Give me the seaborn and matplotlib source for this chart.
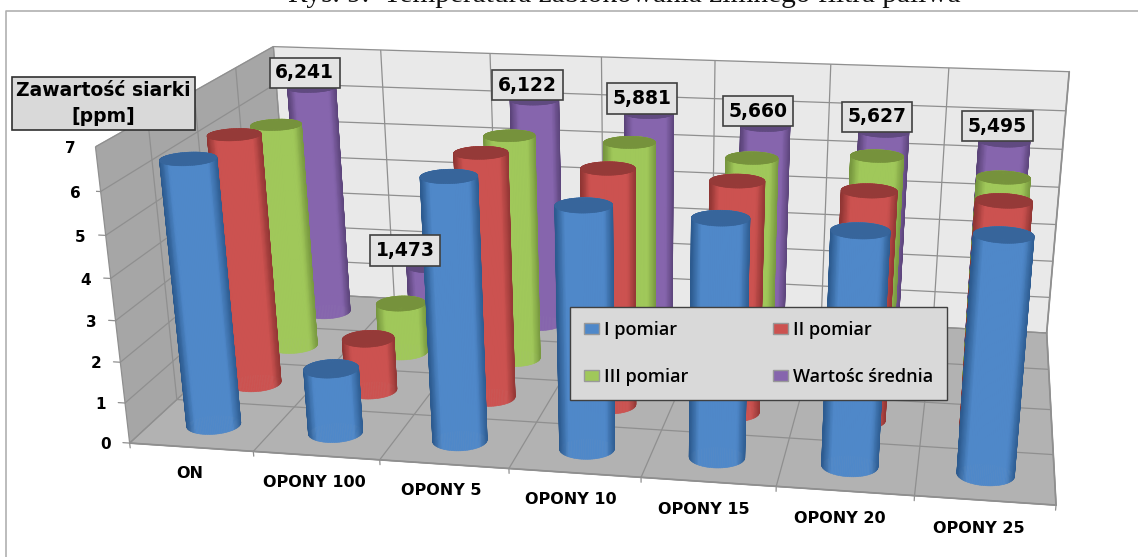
import numpy as np
import matplotlib
matplotlib.use('Agg')
import matplotlib.pyplot as plt
from matplotlib.patches import Patch
from matplotlib.lines import Line2D
from mpl_toolkits.mplot3d import proj3d
import seaborn as sns

categories = ['ON', 'OPONY 100', 'OPONY 5', 'OPONY 10', 'OPONY 15', 'OPONY 20', 'OPONY 25']
pomiar_1 = [6.44, 1.60, 6.29, 5.77, 5.62, 5.48, 5.53]
pomiar_2 = [6.32, 1.35, 6.12, 5.87, 5.70, 5.60, 5.50]
pomiar_3 = [5.90, 1.33, 5.85, 5.80, 5.53, 5.70, 5.30]
srednia = [6.241, 1.473, 6.122, 5.881, 5.660, 5.627, 5.495]
series_names = ['I pomiar', 'II pomiar', 'III pomiar', 'Wartośc średnia']
z_ticks = [0, 1, 2, 3, 4, 5, 6, 7]

W, H = 1138, 557
sns.set_theme(style='white')
plt.rcParams['font.family'] = ['DejaVu Sans']
mids = sns.color_palette(['#4f88c9', '#cc5250', '#a0c85a', '#8665ad'])
darks = sns.color_palette(['#2c5a8e', '#8f3533', '#76963e', '#5a4378'])
tops = sns.color_palette(['#37659b', '#953a38', '#76923c', '#604a80'])

fig = plt.figure(figsize=(W / 100, H / 100), dpi=100)
ax = fig.add_axes([0, 0, 1, 1], projection='3d', computed_zorder=False)
ax.apply_aspect = lambda position=None: None  # obraz w oryginale jest rozciagniety
ax.set_position([95.6 / W, -132.2 / H, 1020.4 / W, 856.4 / H])
ax.patch.set_alpha(0)
ax.set_xlim(0, 7, view_margin=0)
ax.set_ylim(0, 4, view_margin=0)
ax.set_zlim(0, 7, view_margin=0)

# widok dopasowany do narozników wykresu
by, bz = 3.8318, 2.8327
ax.view_init(19.908, -79.663, 0.296)
ax.set_proj_type('persp', focal_length=0.3671)
ax.set_box_aspect((7, by, bz))

ax.xaxis.set_pane_color('#a6a6a6')
ax.yaxis.set_pane_color('#e9e9e9')
ax.zaxis.set_pane_color('#b2b2b2')
for axis in (ax.xaxis, ax.yaxis, ax.zaxis):
    axis._axinfo['grid'].update(color='#8f8f8f', linewidth=0.9)
    axis.line.set_color('#8f8f8f')
    axis._axinfo['tick'].update(inward_factor=0.0, outward_factor=0.0)
    axis._axinfo['axisline']['linewidth'] = 0.9
ax.set_xticks(range(8))
ax.set_yticks(range(5))
ax.set_zticks(z_ticks)
for lab in ax.get_xticklabels() + ax.get_yticklabels() + ax.get_zticklabels():
    lab.set_visible(False)

for z in z_ticks:
    ax.plot([-0.055, 0], [0, 0], [z, z], color='#8f8f8f', lw=0.9, zorder=2)
    ax.text(-0.2, 0, z - 0.07, str(z), ha='center', va='center', fontsize=11, fontweight='bold', color='black', zorder=100)
for i in range(8):
    ax.plot([i, i], [0, 0], [0, -0.12], color='#8f8f8f', lw=0.9, zorder=2)

rx = 0.21
ry = rx / (by / 4)
theta = np.linspace(0, 2 * np.pi, 97)
mid_theta = (theta[:-1] + theta[1:]) / 2
M = ax.get_proj()
for j in [3, 2, 1, 0]:
    vals = [pomiar_1, pomiar_2, pomiar_3, srednia][j]
    m, d = mids[j], darks[j]
    pal = np.array(sns.blend_palette([d, m, m, m, m, m, d], n_colors=64))
    for i, v in enumerate(vals):
        cx, cy = i + 0.5, j + 0.5
        # cieniowanie wg polozenia na ekranie
        sx = proj3d.proj_transform(cx + rx * np.cos(mid_theta), cy + ry * np.sin(mid_theta), np.full_like(mid_theta, v / 2), M)[0]
        u = (sx - sx.min()) / (sx.max() - sx.min())
        fc = pal[(u * 63).astype(int)]
        fc = np.c_[fc, np.ones(len(fc))]
        X = np.array([cx + rx * np.cos(theta)] * 2)
        Y = np.array([cy + ry * np.sin(theta)] * 2)
        Z = np.array([np.zeros_like(theta), np.full_like(theta, v)])
        ax.plot_surface(X, Y, Z, facecolors=fc[None, :, :], shade=False, rstride=1, cstride=1,
                        linewidth=0.4, zorder=10 + (3 - j) * 10 + i)
        R = np.array([0.0, 1.0])[:, None]
        ax.plot_surface(cx + rx * R * np.cos(theta), cy + ry * R * np.sin(theta),
                        np.full((2, len(theta)), v), color=tops[j], shade=False,
                        rstride=1, cstride=1, linewidth=0.4, edgecolor=tops[j],
                        zorder=10 + (3 - j) * 10 + i + 0.5)

for i, v in enumerate(srednia):
    ax.text(i + 0.44 - (0.17 if v < 2 else 0), 3.5, v + 0.13, f'{v:.3f}'.replace('.', ','), ha='center', va='bottom', fontsize=13.5,
            fontweight='bold', color='black', zorder=100,
            bbox=dict(boxstyle='square,pad=0.3', fc='#e3e3e3', ec='#404040', lw=1.2))
for i, c in enumerate(categories):
    ax.text(i + 0.47, 0, -0.67, c, ha='center', va='center', fontsize=11.5, fontweight='bold', color='black', zorder=100)

fig.text(103.5 / W, 1 - 103.5 / H, 'Zawartość siarki\n[ppm]', ha='center', va='center', fontsize=13.5,
         fontweight='bold', color='black', zorder=20, linespacing=1.45,
         bbox=dict(boxstyle='square,pad=0.22', fc='#d9d9d9', ec='#303030', lw=1.2))
handles = [Patch(facecolor=mids[k_], edgecolor='#999999') for k_ in (0, 2, 1, 3)]
labels = [series_names[k_] for k_ in (0, 2, 1, 3)]
leg = fig.legend(handles, labels, ncol=2, loc='upper left', bbox_to_anchor=(570 / W, 1 - 307 / H),
                 borderaxespad=0, frameon=True, fancybox=False, facecolor='#d9d9d9', edgecolor='#404040',
                 framealpha=1, handlelength=0.8, handleheight=0.6, labelspacing=1.6, columnspacing=4.7,
                 borderpad=0.78, handletextpad=0.3, prop={'family': 'Open Sans', 'size': 13, 'weight': 'semibold'})
for txt in leg.get_texts():
    txt.set_color('black')
fig.text(624 / W, 1 - 2 / H, 'Rys. 9.  Temperatura zablokowania zimnego filtra paliwa', ha='center', va='baseline',
         family='Liberation Serif', fontsize=21.2, color='#111111')
fig.add_artist(Line2D([6 / W, 6 / W, 1], [0, 1 - 11 / H, 1 - 11 / H], color='#b0b0b0', lw=1.2))
fig.savefig('out.png', dpi=100)
